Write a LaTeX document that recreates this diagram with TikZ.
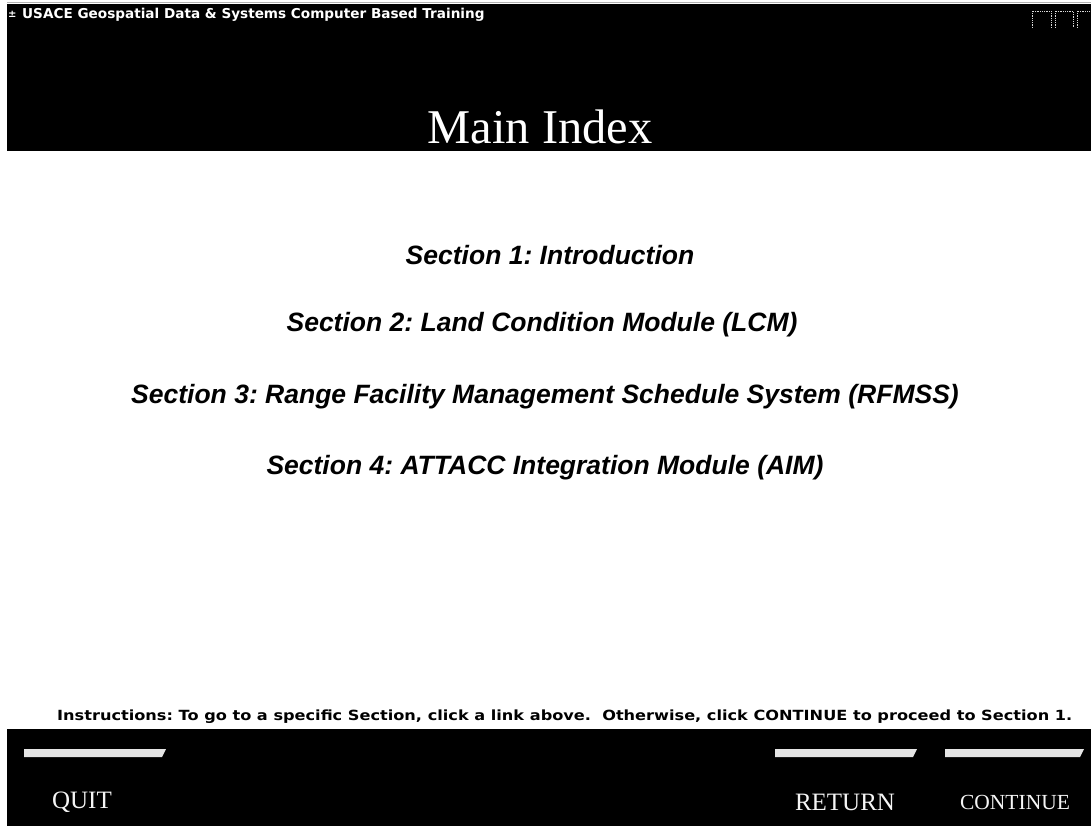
\documentclass[tikz,border=0pt]{standalone}
\usepackage{fontspec}
\setmainfont{Liberation Serif}
\setsansfont{Liberation Sans}
\newfontfamily\tahomalike{DejaVu Sans}
\begin{document}
\begin{tikzpicture}[x=1pt,y=-1pt,
  sectionlink/.style={font=\sffamily\bfseries\itshape\fontsize{26.5}{30}\selectfont\frenchspacing,text=black,inner sep=0pt},
  btntext/.style={font=\rmfamily\fontsize{25}{28}\selectfont,text=white!92!gray,inner sep=0pt},
  strip/.style={fill=white!80!gray,draw=none},
  winbtn/.style={draw=white!70!gray,line width=0.8pt,densely dotted}]
\useasboundingbox (0,0) rectangle (1091,826);
\fill[white] (0,0) rectangle (1091,826);
% top bar
\draw[gray!60,line width=1pt] (7,3) -- (1091,3);
\fill[black] (7,4) rectangle (1091,151);
\node[anchor=west,inner sep=0pt,text=white,font=\tahomalike\bfseries\fontsize{13.6}{15}\selectfont] (apptitle) at (22,15) {USACE Geospatial Data \& Systems Computer Based Training};
\node[anchor=west,inner sep=0pt,text=white,font=\tahomalike\fontsize{10}{11}\selectfont] (appicon) at (8,14) {\textbf{\symbol{"00B1}}};
\node[inner sep=0pt,text=white,font=\rmfamily\fontsize{48.5}{52}\selectfont] (maintitle) at (540,127) {Main Index};
% window buttons
\draw[winbtn] (1032,28) -- (1032,11) -- (1051,11) -- (1051,28);
\draw[winbtn] (1055,28) -- (1055,11) -- (1073,11) -- (1073,28);
\draw[winbtn] (1077,28) -- (1077,11) -- (1091,11);
% sections
\node[sectionlink] (s1) at (550,255) {Section 1: Introduction};
\node[sectionlink] (s2) at (542,325) {Section 2: Land Condition Module (LCM)};
\node[sectionlink] (s3) at (545,397) {Section 3: Range Facility Management Schedule System (RFMSS)};
\node[sectionlink] (s4) at (545,468) {Section 4: ATTACC Integration Module (AIM)};
% instructions
\node[anchor=west,inner sep=0pt,text=black,font=\tahomalike\bfseries\fontsize{14}{16}\selectfont\frenchspacing] (instr) at (57,717) {\scalebox{1.154}[1]{Instructions: To go to a specific Section, click a link above.\ \ Otherwise, click CONTINUE to proceed to Section 1.}};
% bottom bar
\fill[black] (7,729) rectangle (1091,826);
\fill[strip] (24,749) -- (166,749) -- (162,757) -- (24,757) -- cycle;
\fill[strip] (775,749) -- (917,749) -- (913,757) -- (775,757) -- cycle;
\fill[strip] (945,749) -- (1084,749) -- (1080,757) -- (945,757) -- cycle;
\node[btntext] (quit) at (82,802) {QUIT};
\node[btntext] (return) at (845,802) {RETURN};
\node[btntext,font=\rmfamily\fontsize{21.5}{24}\selectfont] (continue) at (1015,802) {CONTINUE};
\end{tikzpicture}
\end{document}
